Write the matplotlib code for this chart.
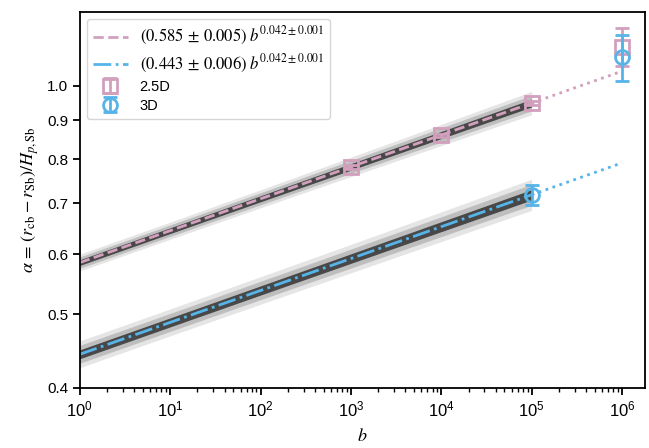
import numpy as np
import matplotlib
matplotlib.use("Agg")
import matplotlib.pyplot as plt

plt.rcParams['font.family'] = ['Liberation Sans', 'DejaVu Sans']
plt.rcParams['mathtext.fontset'] = 'stix'
plt.rcParams['font.size'] = 10.5

# Measurements
b_25d = [1e3, 1e4, 1e5, 1e6]
alpha_25d = [0.782, 0.861, 0.949, 1.125]
err_25d = [0.004, 0.004, 0.005, 0.065]

b_3d = [1e5, 1e6]
alpha_3d = [0.718, 1.09]
err_3d = [0.021, 0.075]

# Power-law fits  alpha = A * b**p
A_25d, dA_25d = 0.585, 0.005
A_3d, dA_3d = 0.443, 0.006
p_fit, dp_fit = 0.042, 0.001

fit_range = (1e0, 1e5)
extrap_range = (1e5, 1e6)

pink = '#D29FBD'
blue = '#56B4E9'

fig = plt.figure(figsize=(6.49, 4.48), dpi=100)
ax = fig.add_axes([0.123, 0.134, 0.871, 0.839])

bb = np.logspace(np.log10(fit_range[0]), np.log10(fit_range[1]), 300)
be = np.logspace(np.log10(extrap_range[0]), np.log10(extrap_range[1]), 50)

handles = []
for A, dA, col, ls, lab in [(A_25d, dA_25d, pink, '--', r'$(0.585\,\pm\,0.005)\;b^{0.042\pm0.001}$'),
                            (A_3d, dA_3d, blue, '-.', r'$(0.443\,\pm\,0.006)\;b^{0.042\pm0.001}$')]:
    y = A * bb ** p_fit
    sig = np.sqrt((dA / (A * np.log(10))) ** 2 + (dp_fit * np.log10(bb)) ** 2 * 0.5)
    for k, a in [(3, 0.10), (2, 0.17), (1, 0.62)]:
        ax.fill_between(bb, y * 10 ** (-k * sig), y * 10 ** (k * sig),
                        color='k', alpha=a, lw=0, zorder=1)
    h, = ax.plot(bb, y, ls=ls, color=col, lw=2, zorder=2, label=lab)
    handles.append(h)
    ax.plot(be, A * be ** p_fit, ls=':', color=col, lw=2, zorder=2)

e1 = ax.errorbar(b_25d, alpha_25d, yerr=err_25d, fmt='s', mfc='none', mec=pink,
                 ecolor=pink, ms=10, mew=2, elinewidth=2, capsize=5, capthick=2,
                 zorder=3, label='2.5D')
e2 = ax.errorbar(b_3d, alpha_3d, yerr=err_3d, fmt='o', mfc='none', mec=blue,
                 ecolor=blue, ms=10, mew=2, elinewidth=2, capsize=5, capthick=2,
                 zorder=4, label='3D')
handles += [e1, e2]

ax.set_xscale('log')
ax.set_yscale('log')
ax.set_xlim(1e0, 1.8e6)
ax.set_ylim(0.4, 1.25)

yt = [0.4, 0.5, 0.6, 0.7, 0.8, 0.9, 1.0]
ax.set_yticks(yt)
ax.set_yticklabels([f'{v:.1f}' for v in yt])
ax.yaxis.set_minor_locator(matplotlib.ticker.NullLocator())
ax.xaxis.set_major_locator(matplotlib.ticker.LogLocator(base=10, numticks=10))
ax.xaxis.set_minor_locator(matplotlib.ticker.LogLocator(base=10, subs=np.arange(2, 10), numticks=20))
ax.xaxis.set_minor_formatter(matplotlib.ticker.NullFormatter())

for s in ax.spines.values():
    s.set_linewidth(1.3)
ax.tick_params(which='major', width=1.3, length=5)
ax.tick_params(which='minor', width=1.0, length=3)
ax.tick_params(axis='x', which='major', labelsize=12)
ax.tick_params(axis='y', which='major', labelsize=11)

ax.set_xlabel(r'$b$', fontsize=13, labelpad=6)
ax.set_ylabel(r'$\alpha\,=\,(r_{\rm cb}-r_{\rm Sb})/H_{p,{\rm Sb}}$', fontsize=13)

leg = ax.legend(handles=handles, loc='upper left', fontsize=10.5, handlelength=2.4,
                labelspacing=0.35)
for t in leg.get_texts()[:2]:
    t.set_fontsize(12)

fig.savefig('out.png', dpi=100)
